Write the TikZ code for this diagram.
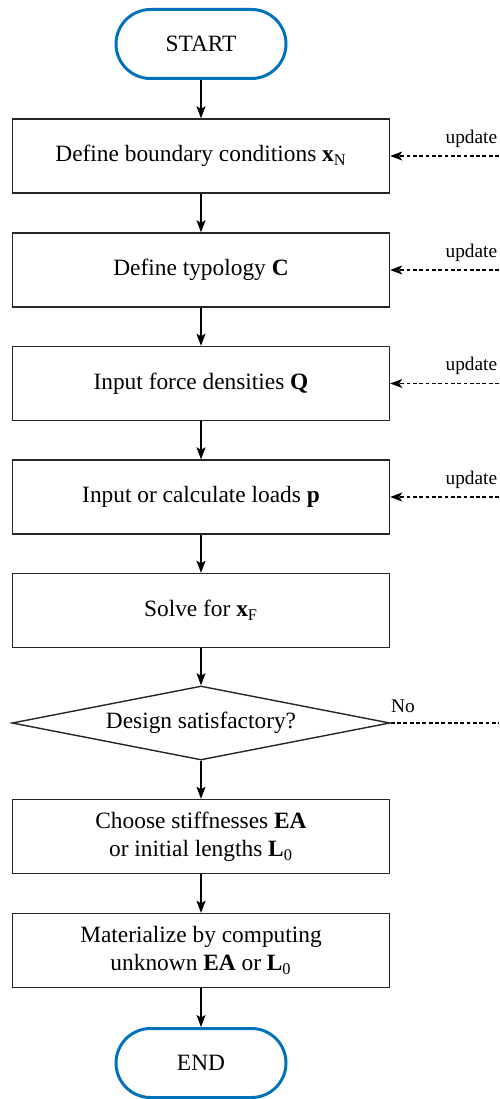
\documentclass[tikz,border=0pt]{standalone}
\usepackage{fontspec}
\setmainfont{Liberation Serif}
\usepackage{tikz}
\usetikzlibrary{shapes.geometric}
\usetikzlibrary{arrows.meta}
\definecolor{termBlue}{RGB}{0,114,188}
\newcommand{\sub}[1]{\textsubscript{#1}}
\tikzset{
  procBox/.style={draw=black!85, line width=0.8pt, minimum width=7.54cm, minimum height=1.48cm, align=center, font=\fontsize{13.3}{16}\selectfont},
  termNode/.style={draw=termBlue, line width=1.7pt, rounded corners=0.69cm, minimum width=3.4cm, minimum height=1.38cm, font=\fontsize{13.3}{16}\selectfont},
  decideNode/.style={draw=black!85, line width=0.8pt, diamond, aspect=5.1, inner sep=0pt, minimum width=7.56cm, minimum height=1.48cm, font=\fontsize{13.3}{16}\selectfont},
  flowArrow/.style={-{Stealth[length=0.24cm, width=0.18cm, inset=0.05cm]}, line width=0.6pt},
  updArrow/.style={-{Stealth[length=0.24cm, width=0.18cm, inset=0.06cm]}, line width=0.6pt, dash pattern=on 2.2pt off 1.4pt},
  sideLabel/.style={inner sep=0pt, font=\fontsize{11}{13}\selectfont}
}

\begin{document}
\begin{tikzpicture}
\useasboundingbox (0,0) rectangle (9.98,-21.98);
% terminals
\node[termNode] (start) at (4.02,-0.88) {START};
\node[termNode] (end) at (4.02,-21.26) {END};
% steps
\node[procBox] (bc) at (4.02,-3.12) {Define boundary conditions \textbf{x}\sub{N}};
\node[procBox] (typ) at (4.02,-5.40) {Define typology \textbf{C}};
\node[procBox] (fd) at (4.02,-7.67) {Input force densities \textbf{Q}};
\node[procBox] (loads) at (4.02,-9.94) {Input or calculate loads \textbf{p}};
\node[procBox] (solve) at (4.02,-12.21) {Solve for \textbf{x}\sub{F}};
\node[decideNode] (check) at (4.02,-14.46) {Design satisfactory?};
\node[procBox] (stiff) at (4.02,-16.73) {Choose stiffnesses \textbf{EA}\\or initial lengths \textbf{L}\sub{0}};
\node[procBox] (mat) at (4.02,-19.01) {Materialize by computing\\unknown \textbf{EA} or \textbf{L}\sub{0}};

% main flow
\draw[flowArrow] (start) -- (bc);
\draw[flowArrow] (bc) -- (typ);
\draw[flowArrow] (typ) -- (fd);
\draw[flowArrow] (fd) -- (loads);
\draw[flowArrow] (loads) -- (solve);
\draw[flowArrow] (solve) -- (check);
\draw[flowArrow] (check) -- (stiff);
\draw[flowArrow] (stiff) -- (mat);
\draw[flowArrow] (mat) -- (end);

% feedback from the right
\foreach \b in {bc,typ,fd,loads}{
  \coordinate (\b-in) at (9.98,0 |- \b.east);
  \draw[updArrow] (\b-in) -- (\b.east);
  \node[sideLabel, anchor=base east] (\b-lbl) at ([shift={(-0.03,0.25)}]\b-in) {update};
}
\coordinate (no-out) at (9.98,0 |- check.east);
\draw[dash pattern=on 2.2pt off 1.4pt, line width=0.6pt] (check.east) -- (no-out);
\node[sideLabel, anchor=base west] (no-lbl) at ([shift={(0,0.22)}]check.east) {No};

\end{tikzpicture}
\end{document}
